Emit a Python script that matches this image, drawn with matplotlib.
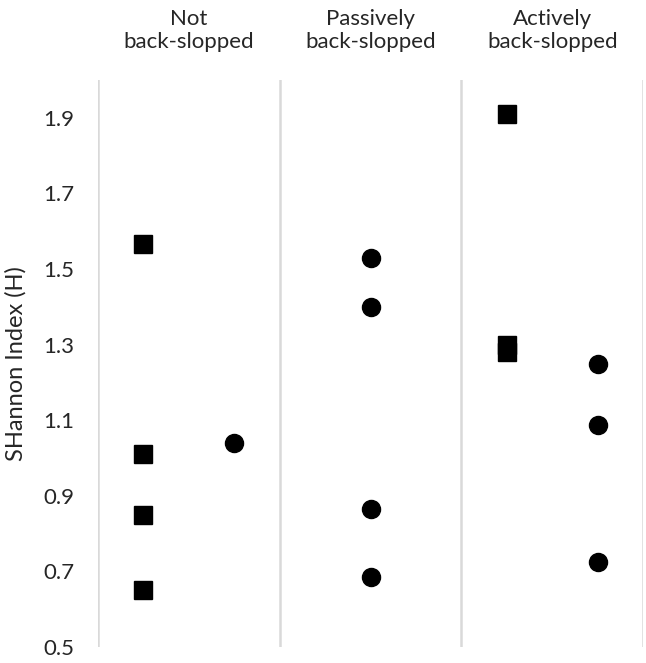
import matplotlib.pyplot as plt
import numpy as np

plt.rcParams['font.family'] = ['Lato', 'DejaVu Sans']

groups = ["Not\nback-slopped", "Passively\nback-slopped", "Actively\nback-slopped"]
y_ticks = [0.5, 0.7, 0.9, 1.1, 1.3, 1.5, 1.7, 1.9]

# square markers (group index, value)
sq_group = [0, 0, 0, 0, 2, 2, 2]
sq_vals = [1.565, 1.01, 0.85, 0.65, 1.91, 1.30, 1.28]

# circle markers (group index, value)
ci_group = [0, 1, 1, 1, 1, 2, 2, 2]
ci_vals = [1.04, 1.53, 1.40, 0.865, 0.685, 1.25, 1.087, 0.725]

# horizontal offset inside each group
sq_off = [-0.25, 0.0, -0.25]
ci_off = [0.25, 0.0, 0.25]

txt = '#262626'
grid = '#d9d9d9'

fig = plt.figure(figsize=(6.46, 6.63), dpi=100)
ax = fig.add_axes([0.1517, 0.0241, 0.8437, 0.8552])

sx = np.array(sq_group) + np.array([sq_off[g] for g in sq_group])
cx = np.array(ci_group) + np.array([ci_off[g] for g in ci_group])
ax.plot(sx, sq_vals, 's', color='black', markersize=12.5, linestyle='none')
ax.plot(cx, ci_vals, 'o', color='black', markersize=13, linestyle='none')

for b in [-0.5, 0.5, 1.5, 2.5]:
    ax.axvline(b, color=grid, linewidth=1.8, zorder=0)

ax.set_xlim(-0.5, 2.5)
ax.set_ylim(0.5, 2.0)
ax.set_yticks(y_ticks)
ax.set_yticklabels([f"{v:.1f}" for v in y_ticks])
ax.set_xticks(range(len(groups)))
ax.set_xticklabels(groups, linespacing=1.2)
ax.xaxis.tick_top()
ax.tick_params(axis='x', length=0, pad=20, labelsize=16, colors=txt)
ax.tick_params(axis='y', length=0, pad=17, labelsize=16, colors=txt)

for s in ax.spines.values():
    s.set_visible(False)

ax.set_ylabel("SHannon Index (H)", fontsize=17, color=txt, labelpad=12)

fig.savefig('out.png', dpi=100)
